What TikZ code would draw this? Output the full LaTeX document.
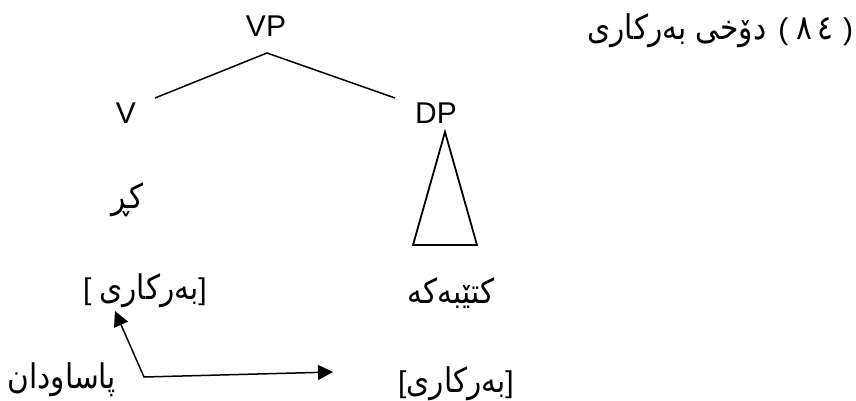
\documentclass[tikz,border=0pt]{standalone}
\usepackage{fontspec}
\setmainfont{Liberation Sans}
\newfontfamily\arabicfont[Script=Arabic,FakeStretch=0.87]{DejaVu Sans}
\TeXXeTstate=1
\usetikzlibrary{arrows.meta}
\newcommand\arsize{\fontsize{34}{40}\selectfont}
\newcommand\latsize{\fontsize{30}{36}\selectfont}
\newcommand\arw[1]{{\arabicfont\arsize\beginR #1\endR}}
\newcommand\ard[1]{{\arabicfont\arsize #1}}
\begin{document}
\begin{tikzpicture}[x=1pt,y=-1pt,
  every node/.style={inner sep=0pt,outer sep=0pt},
  lat/.style={font=\latsize},
  branch/.style={line width=1.5pt},
  tri/.style={line width=1.8pt,line join=miter},
  arr/.style={line width=1.5pt,{Triangle[length=15pt,width=15pt]}-{Triangle[length=15pt,width=15pt]}}]
\useasboundingbox (0,0) rectangle (856,400);
% tree labels
\node[lat] (VP) at (266,26.5) {VP};
\node[lat] (V) at (126,113) {V};
\node[lat] (DP) at (436,113) {DP};
\node[lat] (kr) at (128,200) {\arw{کڕ}};
\node[lat] (feat1) at (145,291) {[\hspace{8pt}\arw{بەرکاری}]};
\node[lat] (ktb) at (451,293) {\arw{کتێبەکە}};
\node[lat] (pas) at (62,380) {\arw{پاساودان}};
\node[lat] (feat2) at (456,384) {[\arw{بەرکاری}]};
\node[lat,anchor=east] (head) at (853,31) {\arw{دۆخی بەرکاری}\hspace{12pt}(\hspace{8pt}\ard{٨}\hspace{5pt}\ard{٤}\hspace{10pt})};
% branches
\coordinate (apex) at (267,53);
\coordinate (vend) at (155,98);
\coordinate (dpend) at (395,98);
\draw[branch] (vend) -- (apex) -- (dpend);
% triangle under DP
\coordinate (ttop) at (445,132);
\coordinate (tl) at (413,245);
\coordinate (tr) at (477,245);
\draw[tri] (ttop) -- (tl) -- (tr) -- cycle;
% arrow
\coordinate (a1) at (115,311);
\coordinate (corner) at (144,377);
\coordinate (a2) at (333,372);
\draw[arr] (a1) -- (corner) -- (a2);
\end{tikzpicture}
\end{document}
